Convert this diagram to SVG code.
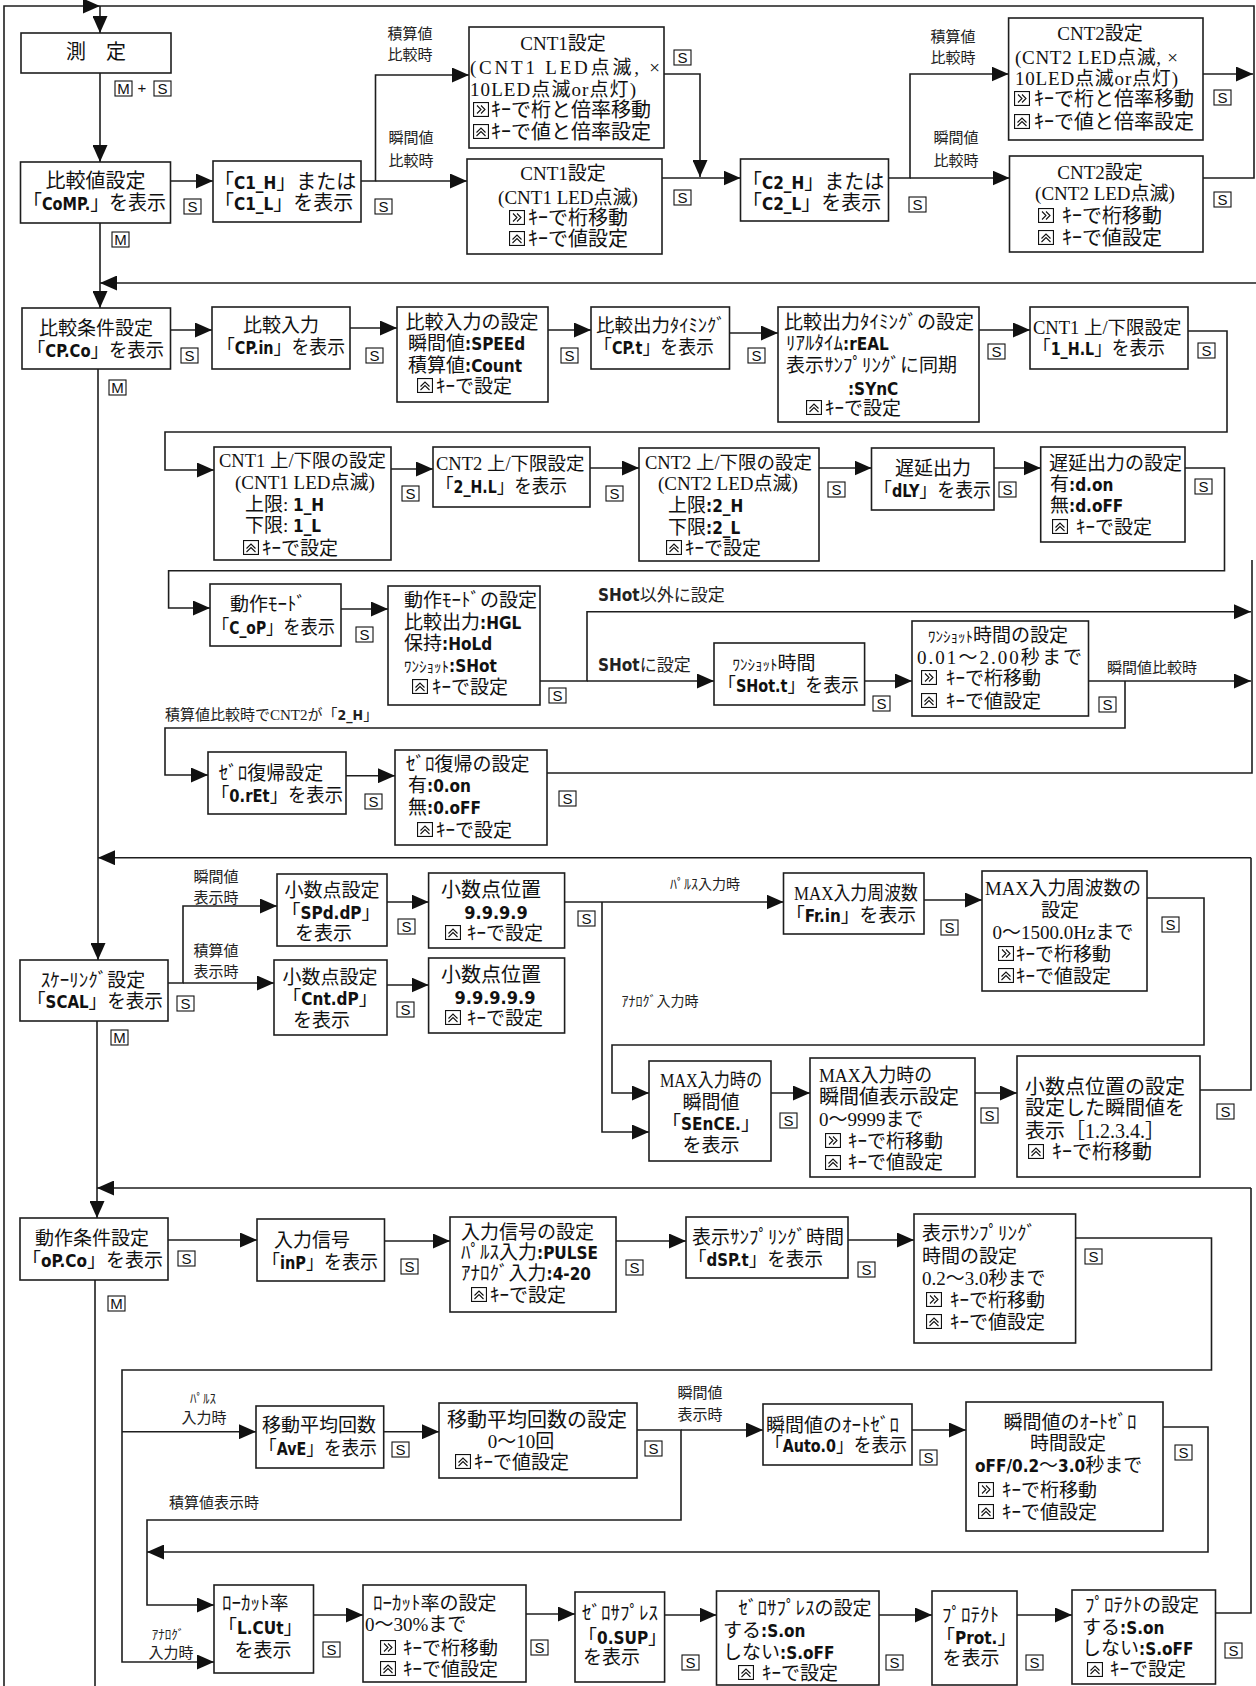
<svg xmlns="http://www.w3.org/2000/svg" xmlns:xlink="http://www.w3.org/1999/xlink" width="1256" height="1686" viewBox="0 0 1256 1686">
<defs>
<marker id="ah" markerWidth="17" markerHeight="15" refX="17" refY="7.5" orient="auto" markerUnits="userSpaceOnUse"><path d="M0,0 L17,7.5 L0,15 z" fill="#111"/></marker>
<symbol id="iR" viewBox="0 0 16 15" width="16" height="15"><rect x="0.55" y="0.55" width="14.9" height="13.9" fill="#fff" stroke="#111" stroke-width="1.1"/><polyline points="4,3.5 8,7.5 4,11.5" fill="none" stroke="#111" stroke-width="1.1"/><polyline points="8,3.5 12,7.5 8,11.5" fill="none" stroke="#111" stroke-width="1.1"/></symbol>
<symbol id="iU" viewBox="0 0 16 15" width="16" height="15"><rect x="0.55" y="0.55" width="14.9" height="13.9" fill="#fff" stroke="#111" stroke-width="1.1"/><polyline points="3.5,8.5 8,4 12.5,8.5" fill="none" stroke="#111" stroke-width="1.1"/><polyline points="3.5,12 8,7.5 12.5,12" fill="none" stroke="#111" stroke-width="1.1"/></symbol>
<style>
.b{fill:#fff;stroke:#1e1e1e;stroke-width:1.6}
.c{fill:none;stroke:#1e1e1e;stroke-width:1.6}
.a{marker-end:url(#ah)}
.t{font-family:"Liberation Serif","Noto Sans CJK JP",serif;font-size:19px;fill:#111}
.t20{font-size:20px}
.m{text-anchor:middle}
.l{font-family:"Liberation Serif","Noto Sans CJK JP",sans-serif;font-size:15px;fill:#222}
.s{font-family:"DejaVu Sans Condensed","DejaVu Sans",sans-serif;font-weight:bold;font-size:17px}
.kr{fill:#fff;stroke:#111;stroke-width:1.1}
.kt{font-family:"Liberation Sans",sans-serif;font-size:15px;text-anchor:middle;fill:#111}
</style>
</defs>
<rect width="1256" height="1686" fill="#fff"/>

<g id="connectors">
<path class="c a" d="M4,1686 V6 H100"/>
<path class="c" d="M100,6 H1254 V178 H1203"/>
<path class="c a" d="M100,6 V33"/>
<path class="c a" d="M100,73 V162"/>
<path class="c a" d="M170.5,181 H213"/>
<path class="c a" d="M361,181 H375.5 V75 H469"/>
<path class="c a" d="M375.5,181 H467"/>
<path class="c a" d="M664,74 H700 V177"/>
<path class="c a" d="M662,178 H740.5"/>
<path class="c a" d="M888.6,178 H910 V74 H1008.6"/>
<path class="c a" d="M910,178 H1009.5"/>
<path class="c a" d="M1203,74 H1253"/>
<path class="c a" d="M1256,283 H100"/>
<path class="c a" d="M100,223 V308"/>

<path class="c a" d="M170.5,330 H212"/>
<path class="c a" d="M350,328 H397"/>
<path class="c a" d="M548,330 H591"/>
<path class="c a" d="M729.5,333 H778"/>
<path class="c a" d="M979,330 H1030"/>
<path class="c a" d="M1188,331 H1227 V432 H165 V470 H214"/>
<path class="c a" d="M391,469 H433"/>
<path class="c a" d="M590,468 H639"/>
<path class="c a" d="M819,468 H871.5"/>
<path class="c a" d="M994,468 H1040.7"/>
<path class="c a" d="M1185,468 H1224.5 V570.7 H168.6 V608 H210"/>
<path class="c a" d="M341,609 H388"/>
<path class="c a" d="M540,681 H587 V611.7 H1251"/>
<path class="c a" d="M587,681 H714"/>
<path class="c a" d="M864.6,681 H912"/>
<path class="c a" d="M1088.5,681 H1251"/>
<path class="c a" d="M1125,681 V728 H165 V775 H208"/>
<path class="c a" d="M346,775.7 H395"/>
<path class="c" d="M547,773 H1252 V560"/>

<path class="c a" d="M1251,857.7 H98"/>
<path class="c a" d="M98,369 V960"/>
<path class="c a" d="M168,983 H183 V906 H277"/>
<path class="c a" d="M183,983 H274"/>
<path class="c a" d="M387,902 H428.6"/>
<path class="c a" d="M564.5,902 H783.5"/>
<path class="c a" d="M602,902 V1132 H649"/>
<path class="c a" d="M387,985 H428.6"/>
<path class="c a" d="M924,900 H982"/>
<path class="c a" d="M1147,898 H1204 V1045 H612 V1093 H649"/>
<path class="c a" d="M771,1093 H810"/>
<path class="c a" d="M975,1093 H1017"/>
<path class="c" d="M1200,1090 H1251 V857.7"/>

<path class="c a" d="M1251,1188 H97"/>
<path class="c a" d="M97,1021 V1218"/>
<path class="c a" d="M168,1240 H257"/>
<path class="c a" d="M384.5,1241 H450"/>
<path class="c a" d="M616,1241 H686"/>
<path class="c a" d="M848,1240 H914"/>
<path class="c a" d="M1075.6,1238 H1211.5 V1370 H122 V1662 H214"/>
<path class="c a" d="M122,1431.7 H256"/>
<path class="c a" d="M383.7,1431.7 H439"/>
<path class="c a" d="M637,1430 H681 V1520 H147 V1605 H214"/>
<path class="c a" d="M681,1430 H763"/>
<path class="c a" d="M912,1430 H966"/>
<path class="c a" d="M1163,1427 H1208 V1552 H147"/>
<path class="c a" d="M313.5,1615 H363"/>
<path class="c a" d="M526,1614 H575"/>
<path class="c a" d="M664.6,1615 H716.5"/>
<path class="c a" d="M879,1615 H932"/>
<path class="c a" d="M1017,1615 H1072"/>
<path class="c" d="M1215.5,1613 H1251 V1188"/>
<path class="c" d="M95,1280 V1686"/>
</g>

<g id="edge-labels">
<text class="l m" x="410" y="38.5">積算値</text>
<text class="l m" x="410" y="60">比較時</text>
<text class="l m" x="411" y="142.5">瞬間値</text>
<text class="l m" x="411" y="165.5">比較時</text>
<text class="l m" x="953" y="42">積算値</text>
<text class="l m" x="953" y="63">比較時</text>
<text class="l m" x="956" y="143">瞬間値</text>
<text class="l m" x="956" y="166">比較時</text>
<text class="l" x="598" y="601" style="font-size:17px"><tspan class="s">SHot</tspan>以外に設定</text>
<text class="l" x="598" y="671" style="font-size:17px"><tspan class="s">SHot</tspan>に設定</text>
<text class="l" x="1107" y="673">瞬間値比較時</text>
<text class="l" x="165" y="720">積算値比較時でCNT2が「<tspan class="s" style="font-size:14px">2_H</tspan>」</text>
<text class="l m" x="216" y="882">瞬間値</text>
<text class="l m" x="216" y="903">表示時</text>
<text class="l m" x="216" y="956">積算値</text>
<text class="l m" x="216" y="977">表示時</text>
<text class="l m" x="705" y="889" style="font-size:14px">ﾊﾟﾙｽ入力時</text>
<text class="l m" x="660" y="1006" style="font-size:14px">ｱﾅﾛｸﾞ入力時</text>
<text class="l m" x="203" y="1403" style="font-size:13px">ﾊﾟﾙｽ</text>
<text class="l m" x="204" y="1423">入力時</text>
<text class="l m" x="700" y="1398">瞬間値</text>
<text class="l m" x="700" y="1420">表示時</text>
<text class="l" x="169" y="1508">積算値表示時</text>
<text class="l m" x="168" y="1639" style="font-size:13px">ｱﾅﾛｸﾞ</text>
<text class="l m" x="171" y="1658">入力時</text>
</g>

<g id="keys">
<g><rect class="kr" x="115" y="81" width="17" height="15"/><text class="kt" x="123.5" y="94">M</text><text class="kt" x="142" y="93">+</text><rect class="kr" x="154" y="81" width="17" height="15"/><text class="kt" x="162.5" y="94">S</text></g>
<g><rect class="kr" x="112" y="232" width="17" height="15"/><text class="kt" x="120.5" y="245">M</text></g>
<g><rect class="kr" x="109" y="380" width="17" height="15"/><text class="kt" x="117.5" y="393">M</text></g>
<g><rect class="kr" x="111" y="1030" width="17" height="15"/><text class="kt" x="119.5" y="1043">M</text></g>
<g><rect class="kr" x="108" y="1296" width="17" height="15"/><text class="kt" x="116.5" y="1309">M</text></g>
<g><rect class="kr" x="184" y="199" width="17" height="15"/><text class="kt" x="192.5" y="212">S</text></g>
<g><rect class="kr" x="375" y="199" width="17" height="15"/><text class="kt" x="383.5" y="212">S</text></g>
<g><rect class="kr" x="674" y="50" width="17" height="15"/><text class="kt" x="682.5" y="63">S</text></g>
<g><rect class="kr" x="674" y="190" width="17" height="15"/><text class="kt" x="682.5" y="203">S</text></g>
<g><rect class="kr" x="909" y="197" width="17" height="15"/><text class="kt" x="917.5" y="210">S</text></g>
<g><rect class="kr" x="1214" y="90" width="17" height="15"/><text class="kt" x="1222.5" y="103">S</text></g>
<g><rect class="kr" x="1214" y="192" width="17" height="15"/><text class="kt" x="1222.5" y="205">S</text></g>
<g><rect class="kr" x="181" y="348" width="17" height="15"/><text class="kt" x="189.5" y="361">S</text></g>
<g><rect class="kr" x="366" y="348" width="17" height="15"/><text class="kt" x="374.5" y="361">S</text></g>
<g><rect class="kr" x="561" y="348" width="17" height="15"/><text class="kt" x="569.5" y="361">S</text></g>
<g><rect class="kr" x="748" y="348" width="17" height="15"/><text class="kt" x="756.5" y="361">S</text></g>
<g><rect class="kr" x="988" y="344" width="17" height="15"/><text class="kt" x="996.5" y="357">S</text></g>
<g><rect class="kr" x="1198" y="343" width="17" height="15"/><text class="kt" x="1206.5" y="356">S</text></g>
<g><rect class="kr" x="402" y="486" width="17" height="15"/><text class="kt" x="410.5" y="499">S</text></g>
<g><rect class="kr" x="606" y="486" width="17" height="15"/><text class="kt" x="614.5" y="499">S</text></g>
<g><rect class="kr" x="828" y="482" width="17" height="15"/><text class="kt" x="836.5" y="495">S</text></g>
<g><rect class="kr" x="999" y="482" width="17" height="15"/><text class="kt" x="1007.5" y="495">S</text></g>
<g><rect class="kr" x="1195" y="479" width="17" height="15"/><text class="kt" x="1203.5" y="492">S</text></g>
<g><rect class="kr" x="356" y="627" width="17" height="15"/><text class="kt" x="364.5" y="640">S</text></g>
<g><rect class="kr" x="549" y="688" width="17" height="15"/><text class="kt" x="557.5" y="701">S</text></g>
<g><rect class="kr" x="873" y="696" width="17" height="15"/><text class="kt" x="881.5" y="709">S</text></g>
<g><rect class="kr" x="1099" y="697" width="17" height="15"/><text class="kt" x="1107.5" y="710">S</text></g>
<g><rect class="kr" x="365" y="794" width="17" height="15"/><text class="kt" x="373.5" y="807">S</text></g>
<g><rect class="kr" x="559" y="791" width="17" height="15"/><text class="kt" x="567.5" y="804">S</text></g>
<g><rect class="kr" x="177" y="996" width="17" height="15"/><text class="kt" x="185.5" y="1009">S</text></g>
<g><rect class="kr" x="398" y="919" width="17" height="15"/><text class="kt" x="406.5" y="932">S</text></g>
<g><rect class="kr" x="578" y="911" width="17" height="15"/><text class="kt" x="586.5" y="924">S</text></g>
<g><rect class="kr" x="397" y="1002" width="17" height="15"/><text class="kt" x="405.5" y="1015">S</text></g>
<g><rect class="kr" x="941" y="920" width="17" height="15"/><text class="kt" x="949.5" y="933">S</text></g>
<g><rect class="kr" x="1162" y="917" width="17" height="15"/><text class="kt" x="1170.5" y="930">S</text></g>
<g><rect class="kr" x="780" y="1113" width="17" height="15"/><text class="kt" x="788.5" y="1126">S</text></g>
<g><rect class="kr" x="981" y="1108" width="17" height="15"/><text class="kt" x="989.5" y="1121">S</text></g>
<g><rect class="kr" x="1217" y="1104" width="17" height="15"/><text class="kt" x="1225.5" y="1117">S</text></g>
<g><rect class="kr" x="178" y="1251" width="17" height="15"/><text class="kt" x="186.5" y="1264">S</text></g>
<g><rect class="kr" x="401" y="1259" width="17" height="15"/><text class="kt" x="409.5" y="1272">S</text></g>
<g><rect class="kr" x="626" y="1260" width="17" height="15"/><text class="kt" x="634.5" y="1273">S</text></g>
<g><rect class="kr" x="858" y="1262" width="17" height="15"/><text class="kt" x="866.5" y="1275">S</text></g>
<g><rect class="kr" x="1085" y="1249" width="17" height="15"/><text class="kt" x="1093.5" y="1262">S</text></g>
<g><rect class="kr" x="392" y="1442" width="17" height="15"/><text class="kt" x="400.5" y="1455">S</text></g>
<g><rect class="kr" x="645" y="1441" width="17" height="15"/><text class="kt" x="653.5" y="1454">S</text></g>
<g><rect class="kr" x="920" y="1450" width="17" height="15"/><text class="kt" x="928.5" y="1463">S</text></g>
<g><rect class="kr" x="1175" y="1445" width="17" height="15"/><text class="kt" x="1183.5" y="1458">S</text></g>
<g><rect class="kr" x="323" y="1642" width="17" height="15"/><text class="kt" x="331.5" y="1655">S</text></g>
<g><rect class="kr" x="531" y="1640" width="17" height="15"/><text class="kt" x="539.5" y="1653">S</text></g>
<g><rect class="kr" x="682" y="1655" width="17" height="15"/><text class="kt" x="690.5" y="1668">S</text></g>
<g><rect class="kr" x="886" y="1655" width="17" height="15"/><text class="kt" x="894.5" y="1668">S</text></g>
<g><rect class="kr" x="1026" y="1655" width="17" height="15"/><text class="kt" x="1034.5" y="1668">S</text></g>
<g><rect class="kr" x="1225" y="1643" width="17" height="15"/><text class="kt" x="1233.5" y="1656">S</text></g>
</g>

<g id="n-sokutei"><rect class="b" x="21" y="33" width="150" height="40"/><text class="t t20 m" x="96" y="59">測　定</text></g>
<g id="n-hikakuchi"><rect class="b" x="20.5" y="162" width="150" height="61"/><text class="t t20 m" x="95.5" y="188">比較値設定</text><text class="t t20" x="23" y="210" textLength="143" lengthAdjust="spacingAndGlyphs">「<tspan class="s">CoMP.</tspan>」を表示</text></g>
<g id="n-c1"><rect class="b" x="213" y="161" width="148" height="61"/><text class="t t20" x="214" y="189">「<tspan class="s">C1_H</tspan>」または</text><text class="t t20" x="214" y="210">「<tspan class="s">C1_L</tspan>」を表示</text></g>
<g id="n-cnt1a"><rect class="b" x="469" y="27" width="195" height="121"/>
<text class="t m" x="563" y="50">CNT1設定</text>
<text class="t" x="470" y="74" textLength="190" lengthAdjust="spacing">(CNT1 LED点滅, ×</text>
<text class="t" x="470" y="96" textLength="166" lengthAdjust="spacing">10LED点滅or点灯)</text>
<use xlink:href="#iR" href="#iR" x="473" y="102"/><text class="t t20" x="491" y="117">ｷｰで桁と倍率移動</text>
<use xlink:href="#iU" href="#iU" x="473" y="124"/><text class="t t20" x="491" y="139">ｷｰで値と倍率設定</text></g>
<g id="n-cnt1b"><rect class="b" x="467" y="159" width="195" height="95"/>
<text class="t m" x="563" y="180">CNT1設定</text>
<text class="t m" x="568" y="204">(CNT1 LED点滅)</text>
<use xlink:href="#iR" href="#iR" x="509" y="210"/><text class="t t20" x="528" y="225">ｷｰで桁移動</text>
<use xlink:href="#iU" href="#iU" x="509" y="231"/><text class="t t20" x="528" y="246">ｷｰで値設定</text></g>
<g id="n-c2"><rect class="b" x="740.5" y="159" width="148" height="62"/><text class="t t20" x="742" y="189">「<tspan class="s">C2_H</tspan>」または</text><text class="t t20" x="742" y="210">「<tspan class="s">C2_L</tspan>」を表示</text></g>
<g id="n-cnt2a"><rect class="b" x="1008.6" y="18" width="194.4" height="122"/>
<text class="t m" x="1100" y="40">CNT2設定</text>
<text class="t" x="1015" y="64" textLength="163" lengthAdjust="spacing">(CNT2 LED点滅, ×</text>
<text class="t" x="1015" y="85" textLength="163" lengthAdjust="spacing">10LED点滅or点灯)</text>
<use xlink:href="#iR" href="#iR" x="1014" y="91"/><text class="t t20" x="1034" y="106">ｷｰで桁と倍率移動</text>
<use xlink:href="#iU" href="#iU" x="1014" y="114"/><text class="t t20" x="1034" y="129">ｷｰで値と倍率設定</text></g>
<g id="n-cnt2b"><rect class="b" x="1009.5" y="156" width="193.5" height="96"/>
<text class="t m" x="1100" y="179">CNT2設定</text>
<text class="t m" x="1105" y="200">(CNT2 LED点滅)</text>
<use xlink:href="#iR" href="#iR" x="1038" y="208"/><text class="t t20" x="1062" y="223">ｷｰで桁移動</text>
<use xlink:href="#iU" href="#iU" x="1038" y="230"/><text class="t t20" x="1062" y="245">ｷｰで値設定</text></g>

<g id="n-hikakujoken"><rect class="b" x="22" y="308" width="148.5" height="61"/><text class="t m" x="96" y="335">比較条件設定</text><text class="t" x="27" y="357" textLength="137" lengthAdjust="spacingAndGlyphs">「<tspan class="s">CP.Co</tspan>」を表示</text></g>
<g id="n-cpin"><rect class="b" x="212" y="307" width="138" height="62"/><text class="t m" x="281" y="332">比較入力</text><text class="t" x="217" y="354" textLength="128" lengthAdjust="spacingAndGlyphs">「<tspan class="s">CP.in</tspan>」を表示</text></g>
<g id="n-cpin-set"><rect class="b" x="397" y="307" width="151" height="95"/>
<text class="t m" x="472" y="329">比較入力の設定</text>
<text class="t" x="408" y="350">瞬間値<tspan class="s">:SPEEd</tspan></text>
<text class="t" x="408" y="372">積算値<tspan class="s">:Count</tspan></text>
<use xlink:href="#iU" href="#iU" x="417" y="378"/><text class="t" x="436" y="393">ｷｰで設定</text></g>
<g id="n-cpt"><rect class="b" x="591" y="307" width="138.5" height="62"/><text class="t" x="596" y="332" style="font-size:18.5px">比較出力ﾀｲﾐﾝｸﾞ</text><text class="t" x="594" y="354" textLength="120" lengthAdjust="spacingAndGlyphs">「<tspan class="s">CP.t</tspan>」を表示</text></g>
<g id="n-cpt-set"><rect class="b" x="778" y="307" width="201" height="115"/>
<text class="t" x="784" y="329">比較出力ﾀｲﾐﾝｸﾞの設定</text>
<text class="t" x="786" y="350">ﾘｱﾙﾀｲﾑ<tspan class="s">:rEAL</tspan></text>
<text class="t" x="786" y="372">表示ｻﾝﾌﾟﾘﾝｸﾞに同期</text>
<text class="t" x="848" y="395"><tspan class="s">:SYnC</tspan></text>
<use xlink:href="#iU" href="#iU" x="806" y="400"/><text class="t" x="825" y="415">ｷｰで設定</text></g>
<g id="n-1hl"><rect class="b" x="1030" y="307" width="158" height="62"/><text class="t" x="1033" y="334" style="font-size:18.5px">CNT1 上/下限設定</text><text class="t" x="1033" y="355" textLength="132" lengthAdjust="spacingAndGlyphs">「<tspan class="s">1_H.L</tspan>」を表示</text></g>
<g id="n-1hl-set"><rect class="b" x="214" y="447" width="177" height="113"/>
<text class="t" x="219" y="467" style="font-size:18.5px">CNT1 上/下限の設定</text>
<text class="t" x="235" y="489">(CNT1 LED点滅)</text>
<text class="t" x="245" y="511">上限: <tspan class="s">1_H</tspan></text>
<text class="t" x="245" y="532">下限: <tspan class="s">1_L</tspan></text>
<use xlink:href="#iU" href="#iU" x="243" y="540"/><text class="t" x="262" y="555">ｷｰで設定</text></g>
<g id="n-2hl"><rect class="b" x="433" y="447" width="157" height="60"/><text class="t" x="436" y="470" style="font-size:18.5px">CNT2 上/下限設定</text><text class="t" x="436" y="493" textLength="131" lengthAdjust="spacingAndGlyphs">「<tspan class="s">2_H.L</tspan>」を表示</text></g>
<g id="n-2hl-set"><rect class="b" x="639" y="448" width="180" height="113"/>
<text class="t" x="645" y="469" style="font-size:18.5px">CNT2 上/下限の設定</text>
<text class="t" x="658" y="490">(CNT2 LED点滅)</text>
<text class="t" x="668" y="512">上限<tspan class="s">:2_H</tspan></text>
<text class="t" x="668" y="534">下限<tspan class="s">:2_L</tspan></text>
<use xlink:href="#iU" href="#iU" x="666" y="540"/><text class="t" x="685" y="555">ｷｰで設定</text></g>
<g id="n-dly"><rect class="b" x="871.5" y="448" width="122.5" height="62"/><text class="t m" x="933" y="475">遅延出力</text><text class="t" x="874" y="497" textLength="117" lengthAdjust="spacingAndGlyphs">「<tspan class="s">dLY</tspan>」を表示</text></g>
<g id="n-dly-set"><rect class="b" x="1040.7" y="447" width="144.3" height="95"/>
<text class="t" x="1049" y="470">遅延出力の設定</text>
<text class="t" x="1050" y="491">有<tspan class="s">:d.on</tspan></text>
<text class="t" x="1050" y="512">無<tspan class="s">:d.oFF</tspan></text>
<use xlink:href="#iU" href="#iU" x="1052" y="519"/><text class="t" x="1076" y="534">ｷｰで設定</text></g>
<g id="n-cop"><rect class="b" x="210" y="584" width="131" height="62"/><text class="t m" x="268" y="611">動作ﾓｰﾄﾞ</text><text class="t" x="212" y="634" textLength="123" lengthAdjust="spacingAndGlyphs">「<tspan class="s">C_oP</tspan>」を表示</text></g>
<g id="n-cop-set"><rect class="b" x="388" y="586" width="152" height="119"/>
<text class="t" x="404" y="607">動作ﾓｰﾄﾞの設定</text>
<text class="t" x="404" y="629">比較出力<tspan class="s">:HGL</tspan></text>
<text class="t" x="404" y="650">保持<tspan class="s">:HoLd</tspan></text>
<text class="t" x="404" y="672"><tspan style="font-size:15px">ﾜﾝｼｮｯﾄ</tspan><tspan class="s">:SHot</tspan></text>
<use xlink:href="#iU" href="#iU" x="412" y="679"/><text class="t" x="432" y="694">ｷｰで設定</text></g>
<g id="n-shott"><rect class="b" x="714" y="643" width="150.6" height="62"/><text class="t m" x="774" y="670"><tspan style="font-size:15px">ﾜﾝｼｮｯﾄ</tspan>時間</text><text class="t" x="718" y="692" textLength="141" lengthAdjust="spacingAndGlyphs">「<tspan class="s">SHot.t</tspan>」を表示</text></g>
<g id="n-shott-set"><rect class="b" x="912" y="621" width="176.5" height="95"/>
<text class="t m" x="998" y="642"><tspan style="font-size:15px">ﾜﾝｼｮｯﾄ</tspan>時間の設定</text>
<text class="t" x="917" y="664" textLength="165" lengthAdjust="spacing">0.01～2.00秒まで</text>
<use xlink:href="#iR" href="#iR" x="921" y="670"/><text class="t" x="946" y="685">ｷｰで桁移動</text>
<use xlink:href="#iU" href="#iU" x="921" y="693"/><text class="t" x="946" y="708">ｷｰで値設定</text></g>
<g id="n-oret"><rect class="b" x="208" y="752" width="138" height="62"/><text class="t m" x="271" y="780">ｾﾞﾛ復帰設定</text><text class="t" x="211" y="802" textLength="132" lengthAdjust="spacingAndGlyphs">「<tspan class="s">0.rEt</tspan>」を表示</text></g>
<g id="n-oret-set"><rect class="b" x="395" y="750" width="152" height="95"/>
<text class="t" x="406" y="771">ｾﾞﾛ復帰の設定</text>
<text class="t" x="408" y="792">有<tspan class="s">:0.on</tspan></text>
<text class="t" x="408" y="814">無<tspan class="s">:0.oFF</tspan></text>
<use xlink:href="#iU" href="#iU" x="417" y="822"/><text class="t" x="436" y="837">ｷｰで設定</text></g>

<g id="n-scal"><rect class="b" x="20" y="960" width="148" height="61"/><text class="t m" x="93" y="987">ｽｹｰﾘﾝｸﾞ設定</text><text class="t" x="27" y="1008" textLength="136" lengthAdjust="spacingAndGlyphs">「<tspan class="s">SCAL</tspan>」を表示</text></g>
<g id="n-spddp"><rect class="b" x="277" y="874" width="110" height="72"/><text class="t m" x="332" y="897">小数点設定</text><text class="t m" x="331" y="919">「<tspan class="s">SPd.dP</tspan>」</text><text class="t" x="295" y="940">を表示</text></g>
<g id="n-dp4"><rect class="b" x="428.6" y="873" width="136" height="75"/><text class="t t20 m" x="491" y="897">小数点位置</text><text class="t m" x="496" y="919"><tspan class="s" style="font-size:18px">9.9.9.9</tspan></text>
<use xlink:href="#iU" href="#iU" x="445" y="925"/><text class="t" x="467" y="940">ｷｰで設定</text></g>
<g id="n-cntdp"><rect class="b" x="274" y="960" width="113" height="75"/><text class="t m" x="330" y="984">小数点設定</text><text class="t m" x="330" y="1005">「<tspan class="s">Cnt.dP</tspan>」</text><text class="t" x="293" y="1027">を表示</text></g>
<g id="n-dp5"><rect class="b" x="428.6" y="958" width="136" height="75"/><text class="t t20 m" x="491" y="982">小数点位置</text><text class="t m" x="495" y="1004"><tspan class="s" style="font-size:18px">9.9.9.9.9</tspan></text>
<use xlink:href="#iU" href="#iU" x="445" y="1010"/><text class="t" x="467" y="1025">ｷｰで設定</text></g>
<g id="n-frin"><rect class="b" x="783.5" y="873" width="140.5" height="61"/><text class="t" x="794" y="900" textLength="124" lengthAdjust="spacingAndGlyphs">MAX入力周波数</text><text class="t" x="786" y="922" textLength="130" lengthAdjust="spacingAndGlyphs">「<tspan class="s">Fr.in</tspan>」を表示</text></g>
<g id="n-frin-set"><rect class="b" x="982" y="871" width="165" height="120"/>
<text class="t" x="985" y="895" textLength="156" lengthAdjust="spacingAndGlyphs">MAX入力周波数の</text>
<text class="t m" x="1060" y="917">設定</text>
<text class="t m" x="1063" y="939">0～1500.0Hzまで</text>
<use xlink:href="#iR" href="#iR" x="998" y="946"/><text class="t" x="1016" y="961">ｷｰで桁移動</text>
<use xlink:href="#iU" href="#iU" x="998" y="968"/><text class="t" x="1016" y="983">ｷｰで値設定</text></g>
<g id="n-sence"><rect class="b" x="649" y="1061" width="122" height="100"/><text class="t" x="660" y="1087" textLength="102" lengthAdjust="spacingAndGlyphs">MAX入力時の</text><text class="t m" x="711" y="1109">瞬間値</text><text class="t m" x="711" y="1130">「<tspan class="s">SEnCE.</tspan>」</text><text class="t m" x="711" y="1152">を表示</text></g>
<g id="n-sence-set"><rect class="b" x="810" y="1058" width="165" height="119"/>
<text class="t" x="819" y="1082" textLength="113" lengthAdjust="spacingAndGlyphs">MAX入力時の</text>
<text class="t t20" x="819" y="1104">瞬間値表示設定</text>
<text class="t" x="819" y="1126">0～9999まで</text>
<use xlink:href="#iR" href="#iR" x="825" y="1133"/><text class="t" x="848" y="1148">ｷｰで桁移動</text>
<use xlink:href="#iU" href="#iU" x="825" y="1155"/><text class="t" x="848" y="1169">ｷｰで値設定</text></g>
<g id="n-dpset"><rect class="b" x="1017" y="1056" width="183" height="121"/>
<text class="t t20" x="1025" y="1094">小数点位置の設定</text>
<text class="t t20" x="1025" y="1115">設定した瞬間値を</text>
<text class="t t20" x="1025" y="1138">表示［1.2.3.4.］</text>
<use xlink:href="#iU" href="#iU" x="1028" y="1144"/><text class="t t20" x="1052" y="1159">ｷｰで桁移動</text></g>

<g id="n-opco"><rect class="b" x="20" y="1218" width="148" height="62"/><text class="t m" x="92" y="1245">動作条件設定</text><text class="t" x="22" y="1267" textLength="141" lengthAdjust="spacingAndGlyphs">「<tspan class="s">oP.Co</tspan>」を表示</text></g>
<g id="n-inp"><rect class="b" x="257" y="1219" width="127.5" height="62"/><text class="t m" x="312" y="1247">入力信号</text><text class="t" x="262" y="1269" textLength="116" lengthAdjust="spacingAndGlyphs">「<tspan class="s">inP</tspan>」を表示</text></g>
<g id="n-inp-set"><rect class="b" x="450" y="1217" width="166" height="95"/>
<text class="t" x="461" y="1239">入力信号の設定</text>
<text class="t" x="461" y="1259">ﾊﾟﾙｽ入力<tspan class="s">:PULSE</tspan></text>
<text class="t" x="461" y="1280">ｱﾅﾛｸﾞ入力<tspan class="s">:4-20</tspan></text>
<use xlink:href="#iU" href="#iU" x="471" y="1287"/><text class="t" x="490" y="1302">ｷｰで設定</text></g>
<g id="n-dspt"><rect class="b" x="686" y="1217" width="162" height="61"/><text class="t" x="692" y="1244">表示ｻﾝﾌﾟﾘﾝｸﾞ時間</text><text class="t" x="688" y="1266" textLength="135" lengthAdjust="spacingAndGlyphs">「<tspan class="s">dSP.t</tspan>」を表示</text></g>
<g id="n-dspt-set"><rect class="b" x="914" y="1214" width="161.6" height="129"/>
<text class="t" x="922" y="1240">表示ｻﾝﾌﾟﾘﾝｸﾞ</text>
<text class="t" x="922" y="1263">時間の設定</text>
<text class="t" x="922" y="1285">0.2～3.0秒まで</text>
<use xlink:href="#iR" href="#iR" x="926" y="1292"/><text class="t" x="950" y="1307">ｷｰで桁移動</text>
<use xlink:href="#iU" href="#iU" x="926" y="1314"/><text class="t" x="950" y="1329">ｷｰで値設定</text></g>
<g id="n-ave"><rect class="b" x="256" y="1406" width="127.7" height="62"/><text class="t m" x="319" y="1432">移動平均回数</text><text class="t" x="259" y="1455" textLength="118" lengthAdjust="spacingAndGlyphs">「<tspan class="s">AvE</tspan>」を表示</text></g>
<g id="n-ave-set"><rect class="b" x="439" y="1403" width="198" height="75"/>
<text class="t t20 m" x="537" y="1427">移動平均回数の設定</text>
<text class="t m" x="521" y="1448">0～10回</text>
<use xlink:href="#iU" href="#iU" x="455" y="1454"/><text class="t" x="474" y="1469">ｷｰで値設定</text></g>
<g id="n-auto0"><rect class="b" x="763" y="1404" width="149" height="61"/><text class="t" x="766" y="1432">瞬間値のｵｰﾄｾﾞﾛ</text><text class="t" x="765" y="1452" textLength="142" lengthAdjust="spacingAndGlyphs">「<tspan class="s">Auto.0</tspan>」を表示</text></g>
<g id="n-auto0-set"><rect class="b" x="966" y="1402" width="197" height="129"/>
<text class="t m" x="1070" y="1429">瞬間値のｵｰﾄｾﾞﾛ</text>
<text class="t m" x="1068" y="1450">時間設定</text>
<text class="t" x="975" y="1472"><tspan class="s">oFF/0.2</tspan>～<tspan class="s">3.0</tspan>秒まで</text>
<use xlink:href="#iR" href="#iR" x="978" y="1482"/><text class="t" x="1002" y="1497">ｷｰで桁移動</text>
<use xlink:href="#iU" href="#iU" x="978" y="1504"/><text class="t" x="1002" y="1519">ｷｰで値設定</text></g>
<g id="n-lcut"><rect class="b" x="214" y="1585" width="99.5" height="88"/><text class="t" x="222" y="1610">ﾛｰｶｯﾄ率</text><text class="t" x="218" y="1634">「<tspan class="s">L.CUt</tspan>」</text><text class="t m" x="263" y="1657">を表示</text></g>
<g id="n-lcut-set"><rect class="b" x="363" y="1585" width="163" height="97"/>
<text class="t" x="373" y="1610">ﾛｰｶｯﾄ率の設定</text>
<text class="t" x="365" y="1631">0～30%まで</text>
<use xlink:href="#iR" href="#iR" x="380" y="1640"/><text class="t" x="403" y="1655">ｷｰで桁移動</text>
<use xlink:href="#iU" href="#iU" x="380" y="1661"/><text class="t" x="403" y="1676">ｷｰで値設定</text></g>
<g id="n-osup"><rect class="b" x="575" y="1592" width="89.6" height="90"/><text class="t" x="582" y="1620">ｾﾞﾛｻﾌﾟﾚｽ</text><text class="t" x="578" y="1644">「<tspan class="s">0.SUP</tspan>」</text><text class="t" x="583" y="1664">を表示</text></g>
<g id="n-osup-set"><rect class="b" x="716.5" y="1591" width="162.5" height="94"/>
<text class="t m" x="805" y="1615">ｾﾞﾛｻﾌﾟﾚｽの設定</text>
<text class="t" x="723" y="1637">する<tspan class="s">:S.on</tspan></text>
<text class="t" x="723" y="1659">しない<tspan class="s">:S.oFF</tspan></text>
<use xlink:href="#iU" href="#iU" x="738" y="1665"/><text class="t" x="762" y="1680">ｷｰで設定</text></g>
<g id="n-prot"><rect class="b" x="932" y="1591" width="85" height="94"/><text class="t" x="942" y="1622">ﾌﾟﾛﾃｸﾄ</text><text class="t" x="936" y="1644">「<tspan class="s">Prot.</tspan>」</text><text class="t m" x="971" y="1665">を表示</text></g>
<g id="n-prot-set"><rect class="b" x="1072" y="1590" width="143.5" height="94"/>
<text class="t m" x="1142" y="1612">ﾌﾟﾛﾃｸﾄの設定</text>
<text class="t" x="1082" y="1634">する<tspan class="s">:S.on</tspan></text>
<text class="t" x="1082" y="1655">しない<tspan class="s">:S.oFF</tspan></text>
<use xlink:href="#iU" href="#iU" x="1087" y="1662"/><text class="t" x="1110" y="1676">ｷｰで設定</text></g>
</svg>
